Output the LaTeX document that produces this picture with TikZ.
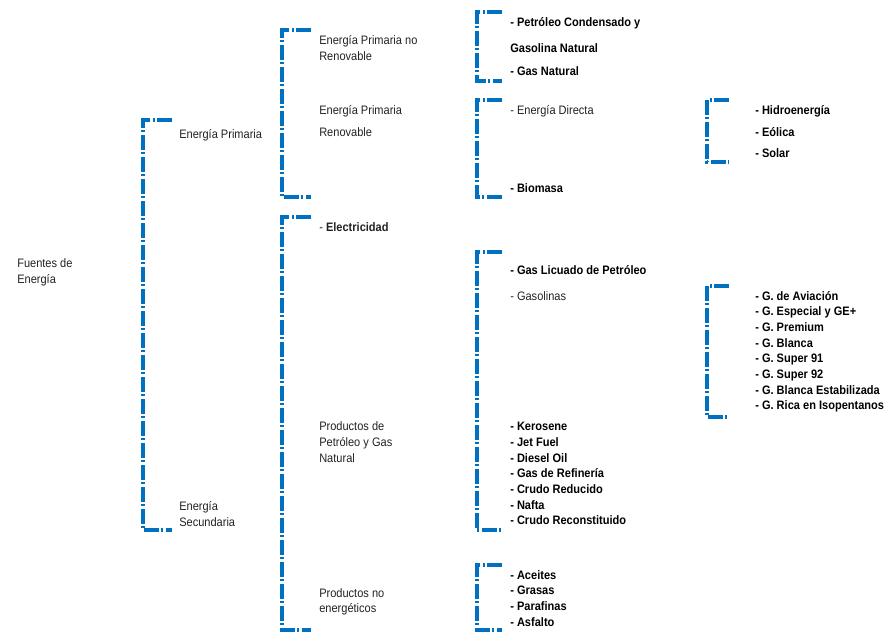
\documentclass[tikz,border=0pt]{standalone}
\usepackage{fontspec}
\setmainfont[FakeStretch=0.9]{Liberation Sans}
\usepackage{xcolor}
\usetikzlibrary{positioning}
\definecolor{brkc}{HTML}{0070C0}
\definecolor{txtc}{HTML}{222222}
\tikzset{
  brk/.style={brkc,line width=2.4pt,dash pattern=on 11pt off 2pt on 1.5pt off 2pt},
  lb/.style={anchor=base west,inner sep=0pt,font=\fontsize{9.2}{11}\selectfont,text=txtc},
  it/.style={lb,font=\fontsize{9.2}{11}\selectfont\bfseries,text=black}
}
% left bracket: x, top, bottom, arm length
\newcommand{\bkt}[4]{\draw[brk] (#1+#4,#2) -- (#1,#2) -- (#1,#3) -- (#1+#4,#3);}

\begin{document}
\begin{tikzpicture}[x=0.75pt,y=-0.75pt]
\useasboundingbox (0,0) rectangle (884,631);
% brackets
\bkt{143}{120}{530}{29}
\bkt{282}{30}{197}{29}
\bkt{282}{217}{630}{29}
\bkt{477}{12}{81}{25}
\bkt{477}{100}{197}{25}
\bkt{477}{252}{530}{25}
\bkt{477}{565}{630}{25}
\bkt{707}{100}{162}{22}
\bkt{707}{286}{417}{22}
% level 1
\node[lb] (fue1) at (17,267) {Fuentes de};
\node[lb] (fue2) at (17,283) {Energía};
% level 2
\node[lb] (pri) at (179,138) {Energía Primaria};
\node[lb] (sec1) at (179,510) {Energía};
\node[lb] (sec2) at (179,526) {Secundaria};
% level 3
\node[lb] (nren1) at (319,45) {Energía Primaria no};
\node[lb] (nren2) at (319,61) {Renovable};
\node[lb] (ren1) at (319,115) {Energía Primaria};
\node[lb] (ren2) at (319,137) {Renovable};
\node[lb] (ele) at (319,231.5) {- \textbf{Electricidad}};
\node[lb] (pet1) at (319,430.5) {Productos de};
\node[lb] (pet2) at (319,446.5) {Petróleo y Gas};
\node[lb] (pet3) at (319,462.5) {Natural};
\node[lb] (noe1) at (319,597) {Productos no};
\node[lb] (noe2) at (319,612) {energéticos};
% level 4
\node[it] (pcg1) at (510,26.5) {- Petróleo Condensado y};
\node[it] (pcg2) at (510,53) {Gasolina Natural};
\node[it] (gna) at (510,76) {- Gas Natural};
\node[lb] (edi) at (510,114.5) {- Energía Directa};
\node[it] (bio) at (510,192.5) {- Biomasa};
\node[it] (glp) at (510,274.5) {- Gas Licuado de Petróleo};
\node[lb] (gas) at (510,300.5) {- Gasolinas};
\foreach \t [count=\i from 0] in {Kerosene,Jet Fuel,Diesel Oil,Gas de Refinería,Crudo Reducido,Nafta,Crudo Reconstituido}
  \node[it] (der\i) at (510,430.7+15.7*\i) {- \t};
\foreach \t [count=\i from 0] in {Aceites,Grasas,Parafinas,Asfalto}
  \node[it] (noe\i) at (510,579+15.7*\i) {- \t};
% level 5
\node[it] (hid) at (755,115) {- Hidroenergía};
\node[it] (eol) at (755,137) {- Eólica};
\node[it] (sol) at (755,157) {- Solar};
\foreach \t [count=\i from 0] in {G. de Aviación,G. Especial y GE+,G. Premium,G. Blanca,G. Super 91,G. Super 92,G. Blanca Estabilizada,G. Rica en Isopentanos}
  \node[it] (gsl\i) at (755,300+15.7*\i) {- \t};
\end{tikzpicture}
\end{document}
